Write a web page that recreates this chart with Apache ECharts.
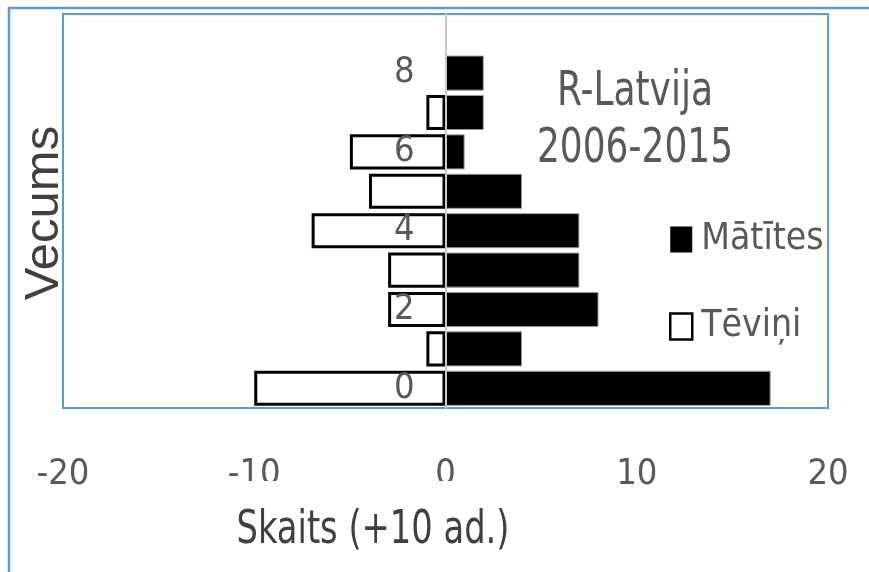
<!DOCTYPE html>
<html>
<head>
<meta charset="utf-8">
<script src="https://cdn.jsdelivr.net/npm/echarts@6/dist/echarts.min.js"></script>
<style>
  html, body { margin: 0; padding: 0; background: #fff; }
  #chart { width: 869px; height: 572px; }
</style>
</head>
<body>
<div id="chart"></div>
<script>
// Age classes (years) and counts per class, in units of 10 individuals
const ages = ['0', '1', '2', '3', '4', '5', '6', '7', '8', '9'];
const females = [17, 4, 8, 7, 7, 4, 1, 2, 2, 0];     // Mātītes
const males = [-10, -1, -3, -3, -7, -4, -5, -1, 0, 0];  // Tēviņi
const xTicks = { min: -20, max: 20, step: 10 };
const seriesNames = ['Mātītes', 'Tēviņi'];
const titleLines = ['R-Latvija', '2006-2015'];

const NARROW = "'DejaVu Sans Condensed', 'Liberation Sans Narrow', 'Liberation Sans', sans-serif";
const REGULAR = "'Liberation Sans', 'Noto Sans', sans-serif";
const BLUE = '#5b9bd5';
const GREY_TEXT = '#595959';

// plot area (px)
const GRID = { left: 63, top: 14, right: 41, bottom: 164 };
const gridWidth = 869 - GRID.left - GRID.right;
// the age axis sits on the zero of the value axis
const zeroShift = gridWidth * (0 - xTicks.min) / (xTicks.max - xTicks.min);

// zero-length bars are left out so no stray outline is drawn
const asBars = arr => arr.map(v => (v === 0 ? null : v));

const chart = echarts.init(document.getElementById('chart'), null, { renderer: 'canvas' });

chart.setOption({
  animation: false,
  backgroundColor: '#fff',
  grid: Object.assign({
    show: true, borderColor: BLUE, borderWidth: 2, backgroundColor: 'transparent'
  }, GRID),
  xAxis: {
    type: 'value',
    min: xTicks.min, max: xTicks.max, interval: xTicks.step,
    axisLine: { show: false },
    axisTick: { show: false },
    splitLine: { show: false },
    axisLabel: {
      margin: 49,
      fontFamily: NARROW, fontSize: 36, color: GREY_TEXT
    }
  },
  yAxis: {
    type: 'category',
    data: ages,
    z: 5,
    offset: -zeroShift,
    axisLine: { onZero: false, lineStyle: { color: '#c8c8c8', width: 2 } },
    axisTick: { show: false },
    axisLabel: {
      interval: 1,
      margin: 31,
      fontFamily: NARROW, fontSize: 36, color: GREY_TEXT
    }
  },
  legend: {
    orient: 'vertical',
    left: 664, top: 216,
    itemWidth: 22, itemHeight: 26, itemGap: 50,
    icon: 'rect',
    textStyle: { fontFamily: NARROW, fontSize: 37, color: GREY_TEXT, padding: [0, 0, 0, 4] },
    data: [
      { name: seriesNames[0], itemStyle: { color: '#000', borderWidth: 0 } },
      { name: seriesNames[1], itemStyle: { color: '#fff', borderColor: '#000', borderWidth: 2.5 } }
    ]
  },
  series: [
    {
      name: seriesNames[0],
      type: 'bar',
      stack: 'pyramid',
      barCategoryGap: '11%',
      data: asBars(females),
      itemStyle: { color: '#000', borderColor: '#9a9a9a', borderWidth: 1 }
    },
    {
      name: seriesNames[1],
      type: 'bar',
      stack: 'pyramid',
      barCategoryGap: '11%',
      data: asBars(males),
      itemStyle: { color: '#fff', borderColor: '#000', borderWidth: 3 }
    }
  ],
  graphic: [
    // outer chart frame
    {
      type: 'rect', z: 0, silent: true,
      shape: { x: 9, y: 8, width: 900, height: 600 },
      style: { fill: 'none', stroke: BLUE, lineWidth: 2.5 }
    },
    // inset title
    {
      type: 'text', z: 10, silent: true,
      x: 635, y: 121, scaleY: 1.2,
      style: {
        text: titleLines.join('\n'),
        fontFamily: NARROW, fontSize: 40, lineHeight: 48,
        fill: GREY_TEXT, align: 'center', verticalAlign: 'middle'
      }
    },
    // value axis title
    {
      type: 'text', z: 10, silent: true,
      x: 373, y: 531, scaleY: 1.25,
      style: {
        text: 'Skaits (+10 ad.)',
        fontFamily: NARROW, fontSize: 37.5,
        fill: '#404040', align: 'center', verticalAlign: 'middle'
      }
    },
    // category axis title
    {
      type: 'text', z: 10, silent: true,
      x: 44, y: 213, rotation: Math.PI / 2,
      style: {
        text: 'Vecums',
        fontFamily: REGULAR, fontSize: 49,
        fill: '#404040', align: 'center', verticalAlign: 'middle'
      }
    },
    // lower edge of the "-10" and "0" tick labels is trimmed
    {
      type: 'rect', z: 20, silent: true,
      shape: { x: 120, y: 481, width: 350, height: 14 },
      style: { fill: '#fff' }
    }
  ]
});
</script>
</body>
</html>
